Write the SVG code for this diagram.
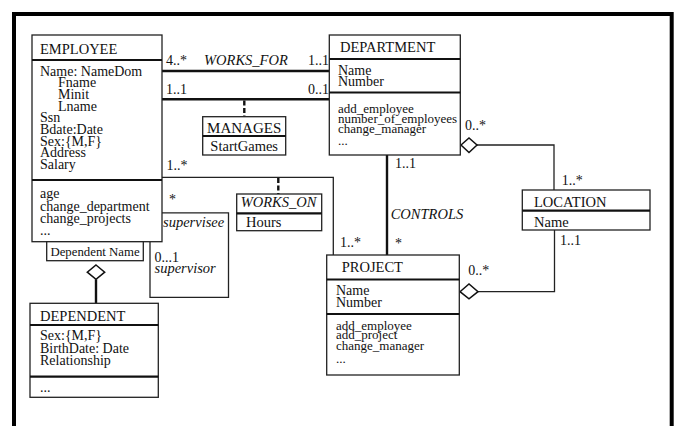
<svg xmlns="http://www.w3.org/2000/svg" width="676" height="426" viewBox="0 0 676 426">
  <style>
    text { font-family: "Liberation Serif", "Times New Roman", serif; fill: #111; }
    .hd { font-size: 14.5px; }
    .at { font-size: 14px; }
    .op { font-size: 13px; }
    .it { font-size: 14.5px; font-style: italic; }
    .mul { font-size: 14px; }
    .box { fill: #fff; stroke: #222; stroke-width: 1.3; }
    .div { stroke: #111; stroke-width: 2.2; }
    .thick { fill: none; stroke: #111; stroke-width: 2.4; }
    .thin { fill: none; stroke: #222; stroke-width: 1.3; }
    .dash { fill: none; stroke: #111; stroke-width: 2.4; stroke-dasharray: 5 2.5; }
    .dia { fill: #fff; stroke: #111; stroke-width: 1.5; }
  </style>

  <!-- outer frame -->
  <rect x="14" y="14" width="657.7" height="440" fill="#fff" stroke="#000" stroke-width="4"/>

  <!-- connectors -->
  <g id="connectors">
    <!-- WORKS_FOR -->
    <line class="thick" x1="162" y1="71" x2="329" y2="71"/>
    <text class="mul" x="166" y="65">4..*</text>
    <text class="it" x="204" y="65">WORKS_FOR</text>
    <text class="mul" x="308" y="65">1..1</text>
    <!-- MANAGES -->
    <line class="thick" x1="162" y1="99.3" x2="329" y2="99.3"/>
    <text class="mul" x="166" y="94">1..1</text>
    <text class="mul" x="308" y="94">0..1</text>
    <line class="dash" x1="244.3" y1="100.5" x2="244.3" y2="116.7"/>
    <!-- WORKS_ON -->
    <polyline class="thin" points="162,177.3 333.3,177.3 333.3,255"/>
    <text class="mul" x="166.5" y="170">1..*</text>
    <text class="mul" x="340" y="246.7">1..*</text>
    <line class="dash" x1="278.3" y1="178" x2="278.3" y2="194"/>
    <!-- CONTROLS -->
    <line class="thick" x1="387" y1="155" x2="387" y2="255"/>
    <text class="mul" x="395" y="168">1..1</text>
    <text class="it" x="390.7" y="219.3">CONTROLS</text>
    <text class="mul" x="395" y="248">*</text>
    <!-- supervision (self association) -->
    <polyline class="thin" points="162,212.8 228.5,212.8 228.5,297.3 150,297.3 150,242"/>
    <text class="mul" x="169" y="204">*</text>
    <text class="it" x="163" y="226.7">supervisee</text>
    <text class="mul" x="154.5" y="261.7">0...1</text>
    <text class="it" x="154.5" y="273">supervisor</text>
    <!-- DEPENDENT aggregation -->
    <line class="thick" x1="96" y1="279.3" x2="96" y2="303.3"/>
    <polygon class="dia" points="96,265 104.7,272.2 96,279.3 87.3,272.2"/>
    <!-- DEPARTMENT - LOCATION -->
    <polyline class="thin" points="477,145 554,145 554,190"/>
    <polygon class="dia" points="461,145 469,138 477,145 469,152.5"/>
    <text class="mul" x="465" y="130">0..*</text>
    <text class="mul" x="561.7" y="185">1..*</text>
    <!-- PROJECT - LOCATION -->
    <polyline class="thin" points="554.5,230 554.5,291.7 478,291.7"/>
    <polygon class="dia" points="460,291.7 469,284 478,291.7 469,298.8"/>
    <text class="mul" x="468.3" y="275">0..*</text>
    <text class="mul" x="560" y="245">1..1</text>
  </g>

  <!-- EMPLOYEE -->
  <g id="employee">
    <rect class="box" x="32" y="35" width="130" height="206.7"/>
    <line class="div" x1="32" y1="60" x2="162" y2="60"/>
    <line class="div" x1="32" y1="180" x2="162" y2="180"/>
    <text class="hd" x="40" y="54">EMPLOYEE</text>
    <text class="at" x="40" y="75.7">Name: NameDom</text>
    <text class="at" x="58" y="87.3">Fname</text>
    <text class="at" x="58" y="99">Minit</text>
    <text class="at" x="58" y="110.7">Lname</text>
    <text class="at" x="40" y="122.4">Ssn</text>
    <text class="at" x="40" y="134">Bdate:Date</text>
    <text class="at" x="40" y="145.7">Sex:{M,F}</text>
    <text class="at" x="40" y="157.4">Address</text>
    <text class="at" x="40" y="169.1">Salary</text>
    <text class="at" x="40" y="198.3">age</text>
    <text class="at" x="40" y="210.7">change_department</text>
    <text class="at" x="40" y="223">change_projects</text>
    <text class="at" x="40" y="235.4">...</text>
  </g>

  <!-- qualifier -->
  <g id="dependent-name">
    <rect class="box" x="46.7" y="241.7" width="96.6" height="19"/>
    <text x="95" y="255.5" font-size="12.8" text-anchor="middle">Dependent Name</text>
  </g>

  <!-- DEPENDENT -->
  <g id="dependent">
    <rect class="box" x="30" y="303.3" width="128.3" height="94"/>
    <line class="div" x1="30" y1="325" x2="158.3" y2="325"/>
    <line class="div" x1="30" y1="376.7" x2="158.3" y2="376.7"/>
    <text class="hd" x="40" y="320.7">DEPENDENT</text>
    <text class="at" x="40" y="340">Sex:{M,F}</text>
    <text class="at" x="40" y="352.5">BirthDate: Date</text>
    <text class="at" x="40" y="365">Relationship</text>
    <text class="at" x="40" y="391.7">...</text>
  </g>

  <!-- MANAGES -->
  <g id="manages">
    <rect class="box" x="202.7" y="116.7" width="83" height="38.3"/>
    <line class="div" x1="202.7" y1="136" x2="285.7" y2="136"/>
    <text x="244.2" y="133" font-size="15" text-anchor="middle">MANAGES</text>
    <text class="hd" x="244.2" y="151" text-anchor="middle">StartGames</text>
  </g>

  <!-- WORKS_ON -->
  <g id="works-on">
    <rect class="box" x="236.7" y="194" width="85" height="36.7"/>
    <line class="div" x1="236.7" y1="213.3" x2="321.7" y2="213.3"/>
    <text class="it" x="240.7" y="207.3">WORKS_ON</text>
    <text class="hd" x="246" y="226.7">Hours</text>
  </g>

  <!-- DEPARTMENT -->
  <g id="department">
    <rect class="box" x="329.3" y="35" width="131" height="120"/>
    <line class="div" x1="329.3" y1="59" x2="460.3" y2="59"/>
    <line class="div" x1="329.3" y1="92.5" x2="460.3" y2="92.5"/>
    <text class="hd" x="340" y="52">DEPARTMENT</text>
    <text class="at" x="338" y="75">Name</text>
    <text class="at" x="338" y="86">Number</text>
    <text class="op" x="338" y="112.5">add_employee</text>
    <text class="op" x="338" y="122.5">number_of_employees</text>
    <text class="op" x="338" y="132.5">change_manager</text>
    <text class="op" x="338" y="145">...</text>
  </g>

  <!-- PROJECT -->
  <g id="project">
    <rect class="box" x="326.7" y="255" width="132.6" height="120"/>
    <line class="div" x1="326.7" y1="279.5" x2="459.3" y2="279.5"/>
    <line class="div" x1="326.7" y1="314" x2="459.3" y2="314"/>
    <text class="hd" x="341.7" y="271.7">PROJECT</text>
    <text class="at" x="336" y="295">Name</text>
    <text class="at" x="336" y="306.7">Number</text>
    <text class="op" x="336" y="329.5">add_employee</text>
    <text class="op" x="336" y="339">add_project</text>
    <text class="op" x="336" y="350">change_manager</text>
    <text class="op" x="336" y="362.7">...</text>
  </g>

  <!-- LOCATION -->
  <g id="location">
    <rect class="box" x="522.3" y="190" width="127.7" height="40"/>
    <line class="div" x1="522.3" y1="210.7" x2="650" y2="210.7"/>
    <text class="hd" x="534" y="206.7">LOCATION</text>
    <text class="hd" x="534" y="226.7">Name</text>
  </g>
</svg>
